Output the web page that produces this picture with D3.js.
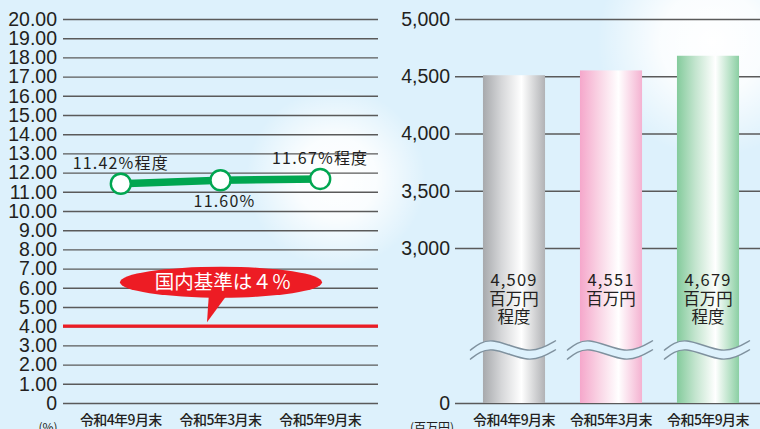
<!DOCTYPE html>
<html>
<head>
<meta charset="utf-8">
<script src="https://cdn.jsdelivr.net/npm/d3@7"></script>
<style>
  html, body { margin: 0; padding: 0; background: #ddf1fc; }
  svg { display: block; }
  .tick text { font-family: "Liberation Sans", Arial, sans-serif; fill: #231f20; }
  .jp { font-family: "Noto Sans CJK JP", sans-serif; }
</style>
</head>
<body>
<div id="chart"></div>
<script>
const periods = ["令和4年9月末", "令和5年3月末", "令和5年9月末"];
const ratioValues = [11.42, 11.60, 11.67];
const ratioLabels = ["11.42%程度", "11.60%", "11.67%程度"];
const ratioLabelSide = ["above", "below", "above"];
const baselineValue = 4;
const baselineText = "国内基準は４％";
const amountValues = [4509, 4551, 4679];
const amountLabels = [["4,509", "百万円", "程度"], ["4,551", "百万円"], ["4,679", "百万円", "程度"]];
const leftTicks = d3.range(0, 21);
const rightTicks = [0, 3000, 3500, 4000, 4500, 5000];
const barColors = [
    ["#a7a9ac", "#d6d7d9", "#ffffff", "#b1b2b5"],
    ["#f5a7cb", "#f9d3e4", "#ffffff", "#f4b2d1"],
    ["#84cb9c", "#c4e5cf", "#ffffff", "#8bcfa3"]
];

const width = 760, height = 429;
const bg = "#ddf1fc";

const svg = d3.select("#chart").append("svg")
    .attr("width", width)
    .attr("height", height);

const defs = svg.append("defs");

// soft white glows in the background
function glow(id) {
    const g = defs.append("radialGradient").attr("id", id);
    g.append("stop").attr("offset", "0%").attr("stop-color", "#ffffff").attr("stop-opacity", 1);
    g.append("stop").attr("offset", "45%").attr("stop-color", "#ffffff").attr("stop-opacity", 0.85);
    g.append("stop").attr("offset", "100%").attr("stop-color", "#ffffff").attr("stop-opacity", 0);
}
glow("glowL");
glow("glowR");

svg.append("rect").attr("width", width).attr("height", height).attr("fill", bg);
svg.append("circle").attr("cx", 336).attr("cy", 178).attr("r", 90).attr("fill", "url(#glowL)");
svg.append("circle").attr("cx", 712).attr("cy", 42).attr("r", 115).attr("fill", "url(#glowR)");

// ---------- left chart: ratio ----------
const xL = d3.scalePoint().domain(periods).range([63, 378]).padding(0.58);
const yL = d3.scaleLinear().domain([0, 20]).range([403, 19]);

const axisL = svg.append("g")
    .attr("transform", "translate(63,0)")
    .call(d3.axisLeft(yL)
        .tickValues(leftTicks)
        .tickSizeInner(-315)
        .tickSizeOuter(0)
        .tickPadding(6)
        .tickFormat(d => d === 0 ? "0" : d.toFixed(2)));
axisL.select(".domain").remove();
axisL.selectAll(".tick line").attr("stroke", "#5a5a5a").attr("stroke-width", 1.4);
axisL.selectAll(".tick text").attr("font-size", 19.5);

// 4% baseline
svg.append("line")
    .attr("x1", 63).attr("x2", 378)
    .attr("y1", yL(baselineValue)).attr("y2", yL(baselineValue))
    .attr("stroke", "#ed1c24").attr("stroke-width", 3.2);

// callout bubble
const bubble = svg.append("g").attr("transform", `translate(221,${yL(baselineValue) - 44})`);
bubble.append("path")
    .attr("d", "M-12,10 L-14,40 L8,10 Z")
    .attr("fill", "#ed1c24");
bubble.append("ellipse")
    .attr("rx", 101).attr("ry", 15.5)
    .attr("fill", "#ed1c24");
bubble.append("text")
    .attr("class", "jp")
    .attr("x", 2).attr("y", 7)
    .attr("text-anchor", "middle")
    .attr("font-size", 19.5)
    .attr("fill", "#ffffff")
    .text(baselineText);

// ratio line
const lineL = d3.line().x((d, i) => xL(periods[i])).y(d => yL(d));
svg.append("path")
    .datum(ratioValues)
    .attr("d", lineL)
    .attr("fill", "none")
    .attr("stroke", "#00a650")
    .attr("stroke-width", 7.5);
svg.selectAll(".pt")
    .data(ratioValues)
    .enter().append("circle")
    .attr("class", "pt")
    .attr("cx", (d, i) => xL(periods[i]))
    .attr("cy", d => yL(d))
    .attr("r", 10)
    .attr("fill", "#ffffff")
    .attr("stroke", "#00a650")
    .attr("stroke-width", 2.4);

svg.selectAll(".ptlabel")
    .data(ratioValues)
    .enter().append("text")
    .attr("class", "ptlabel jp")
    .attr("x", (d, i) => xL(periods[i]) + (i === 1 ? 4 : 0))
    .attr("y", (d, i) => ratioLabelSide[i] === "above" ? yL(d) - 15 : yL(d) + 27)
    .attr("text-anchor", "middle")
    .attr("font-size", 16)
    .attr("letter-spacing", 1.2)
    .attr("fill", "#231f20")
    .text((d, i) => ratioLabels[i]);

svg.selectAll(".xlabL")
    .data(periods)
    .enter().append("text")
    .attr("class", "xlabL jp")
    .attr("x", d => xL(d))
    .attr("y", 425)
    .attr("text-anchor", "middle")
    .attr("font-size", 14)
    .attr("font-weight", 500)
    .attr("letter-spacing", -0.6)
    .attr("fill", "#231f20")
    .text(d => d);

svg.append("text")
    .attr("class", "jp")
    .attr("x", 48).attr("y", 432)
    .attr("text-anchor", "middle")
    .attr("font-size", 12)
    .attr("fill", "#231f20")
    .text("(%)");

// ---------- right chart: amount ----------
const xR = d3.scaleBand().domain(periods).range([465.5, 756.5]).paddingInner(0.36).paddingOuter(0.18);
const yR = d3.scaleLinear().domain([0, 3000, 5000]).range([403, 248, 19]);

const axisR = svg.append("g")
    .attr("transform", "translate(455,0)")
    .call(d3.axisLeft(yR)
        .tickValues(rightTicks)
        .tickSizeInner(-305)
        .tickSizeOuter(0)
        .tickPadding(5)
        .tickFormat(d3.format(",")));
axisR.select(".domain").remove();
axisR.selectAll(".tick line").attr("stroke", "#5a5a5a").attr("stroke-width", 1.4);
axisR.selectAll(".tick text").attr("font-size", 19.5);

barColors.forEach((c, i) => {
    const g = defs.append("linearGradient").attr("id", "bar" + i)
        .attr("x1", "0%").attr("x2", "100%").attr("y1", "0%").attr("y2", "0%");
    g.append("stop").attr("offset", "0%").attr("stop-color", c[0]);
    g.append("stop").attr("offset", "30%").attr("stop-color", c[1]);
    g.append("stop").attr("offset", "62%").attr("stop-color", c[2]);
    g.append("stop").attr("offset", "100%").attr("stop-color", c[3]);
});

svg.selectAll(".bar")
    .data(amountValues)
    .enter().append("rect")
    .attr("class", "bar")
    .attr("x", (d, i) => xR(periods[i]))
    .attr("y", d => yR(d))
    .attr("width", xR.bandwidth())
    .attr("height", d => yR(0) - yR(d))
    .attr("fill", (d, i) => `url(#bar${i})`);

// axis break waves across each bar
const wave = d3.line().curve(d3.curveBasis);
const wavePts = [[-44, 5], [-34, -3], [-22, -6], [-4, 0], [14, 6], [28, 3], [42, -5]];
periods.forEach(p => {
    const cx = xR(p) + xR.bandwidth() / 2;
    const g = svg.append("g").attr("transform", `translate(${cx},350)`);
    const top = wavePts.map(([x, y]) => [x, y - 4.5]);
    const bot = wavePts.map(([x, y]) => [x, y + 4.5]);
    g.append("path")
        .attr("d", wave(top) + "L" + wave(bot.slice().reverse()).slice(1) + "Z")
        .attr("fill", bg);
    g.append("path").attr("d", wave(top)).attr("fill", "none").attr("stroke", "#7f919e").attr("stroke-width", 1.4);
    g.append("path").attr("d", wave(bot)).attr("fill", "none").attr("stroke", "#7f919e").attr("stroke-width", 1.4);
});

// value labels inside bars
amountLabels.forEach((lines, i) => {
    const cx = xR(periods[i]) + xR.bandwidth() / 2;
    lines.forEach((s, j) => {
        svg.append("text")
            .attr("class", "jp")
            .attr("text-anchor", "middle")
            .attr("font-size", 16.5)
            .attr("fill", "#231f20")
            .attr("x", cx)
            .attr("y", 286 + j * 18.5)
            .attr("letter-spacing", j === 0 ? 1.2 : 0)
            .text(s);
    });
});

svg.selectAll(".xlabR")
    .data(periods)
    .enter().append("text")
    .attr("class", "xlabR jp")
    .attr("x", d => xR(d) + xR.bandwidth() / 2)
    .attr("y", 425)
    .attr("text-anchor", "middle")
    .attr("font-size", 14)
    .attr("font-weight", 500)
    .attr("letter-spacing", -0.6)
    .attr("fill", "#231f20")
    .text(d => d);

svg.append("text")
    .attr("class", "jp")
    .attr("x", 432).attr("y", 432)
    .attr("text-anchor", "middle")
    .attr("font-size", 12)
    .attr("fill", "#231f20")
    .text("(百万円)");
</script>
</body>
</html>
